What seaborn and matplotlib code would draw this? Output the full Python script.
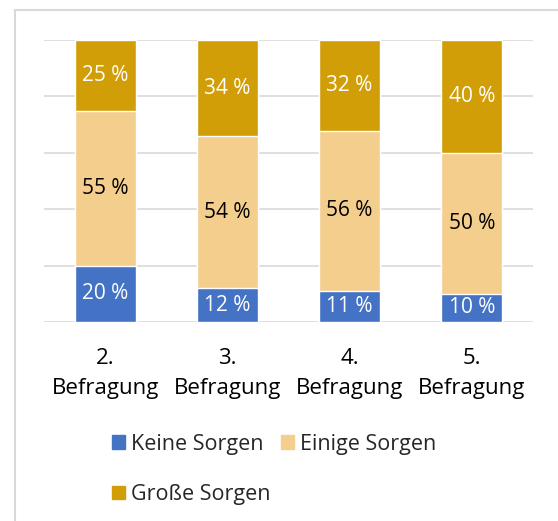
import matplotlib
matplotlib.use('Agg')
import matplotlib.pyplot as plt
import seaborn as sns
from matplotlib.lines import Line2D
from matplotlib.patches import Patch

categories = ['2.\nBefragung', '3.\nBefragung', '4.\nBefragung', '5.\nBefragung']
keine = [20, 12, 11, 10]
einige = [55, 54, 56, 50]
grosse = [25, 34, 32, 40]

series_names = ['Keine Sorgen', 'Einige Sorgen', 'Große Sorgen']
colors = ['#4472C4', '#F4CE8D', '#D19E08']
label_colors = ['white', 'black', 'white']

sns.set_theme(style='white')
plt.rcParams['font.family'] = ['Open Sans', 'DejaVu Sans']

fig = plt.figure(figsize=(5.58, 5.21), dpi=100)
ax = fig.add_axes([0.079, 0.382, 0.876, 0.541])

# 100 % stacked: shares of each bar's sum
sums = [a + b + c for a, b, c in zip(keine, einige, grosse)]
lower = [100 * a / s for a, s in zip(keine, sums)]
middle = [100 * (a + b) / s for a, b, s in zip(keine, einige, sums)]
total = [100.0] * len(categories)

# stack by overdrawing cumulative totals
sns.barplot(x=categories, y=total, color=colors[2], width=0.5, saturation=1,
            ax=ax, zorder=3)
sns.barplot(x=categories, y=middle, color=colors[1], width=0.5, saturation=1,
            ax=ax, zorder=3)
sns.barplot(x=categories, y=lower, color=colors[0], width=0.5, saturation=1,
            ax=ax, zorder=3)

for i in range(len(categories)):
    segs = [(0, lower[i], keine[i]),
            (lower[i], middle[i], einige[i]),
            (middle[i], 100, grosse[i])]
    for k, (b, t, v) in enumerate(segs):
        ax.text(i, (b + t) / 2, f'{v} %', ha='center', va='center',
                color=label_colors[k], fontsize=15, zorder=4)

ax.set_ylim(0, 100)
ax.set_xlim(-0.5, 3.5)
ax.set_yticks([0, 20, 40, 60, 80, 100])
ax.set_yticklabels([])
ax.tick_params(axis='y', length=0)
ax.tick_params(axis='x', length=0, labelsize=16, pad=19, labelcolor='black')
for lbl in ax.get_xticklabels():
    lbl.set_linespacing(1.55)
ax.grid(axis='y', color='#D9D9D9', linewidth=1.2, zorder=0)
for s in ax.spines.values():
    s.set_visible(False)
ax.set_ylabel('')

handles = [Patch(color=c, label=n) for c, n in zip(colors, series_names)]
# reorder so the legend fills row by row
handles = [handles[0], handles[2], handles[1]]
fig.legend(handles=handles, loc='upper left', bbox_to_anchor=(0.2, 0.167),
           ncol=2, frameon=False, fontsize=15.5, handlelength=0.62,
           handleheight=0.62, handletextpad=0.3, columnspacing=0.45,
           labelspacing=1.35, borderaxespad=0, borderpad=0)

# chart border (cropped on right and bottom)
fig.add_artist(Line2D([0.027, 0.027], [0, 0.981], color='#D9D9D9', lw=1.5))
fig.add_artist(Line2D([0.027, 1], [0.981, 0.981], color='#D9D9D9', lw=1.5))

fig.savefig('out.png', dpi=100)
